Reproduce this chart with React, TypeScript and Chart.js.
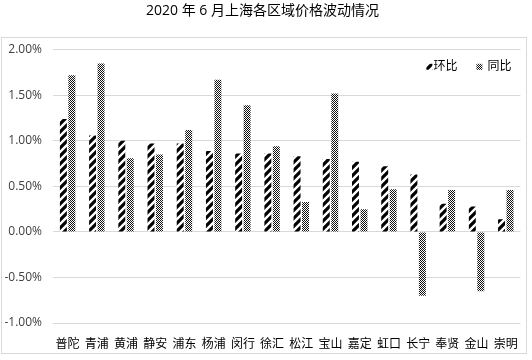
import React, { useEffect, useRef } from "react";
import { Chart, registerables } from "chart.js";

Chart.register(...registerables);

const districts = ["普陀", "青浦", "黄浦", "静安", "浦东", "杨浦", "闵行", "徐汇", "松江", "宝山", "嘉定", "虹口", "长宁", "奉贤", "金山", "崇明"];
const momValues = [1.24, 1.06, 1.0, 0.97, 0.97, 0.89, 0.86, 0.86, 0.83, 0.8, 0.77, 0.72, 0.63, 0.31, 0.28, 0.14];
const yoyValues = [1.72, 1.85, 0.81, 0.85, 1.12, 1.67, 1.39, 0.94, 0.33, 1.52, 0.25, 0.47, -0.7, 0.46, -0.65, 0.46];
const seriesNames = ["环比", "同比"];
const titleText = "2020 年 6 月上海各区域价格波动情况";

const FONT = "'Open Sans', 'Noto Sans CJK SC', sans-serif";

function makeStripe(): CanvasPattern | string {
  const c = document.createElement("canvas");
  c.width = 8;
  c.height = 8;
  const g = c.getContext("2d");
  if (!g) return "#000";
  g.fillStyle = "#fff";
  g.fillRect(0, 0, 8, 8);
  g.strokeStyle = "#000";
  g.lineWidth = 3.2;
  g.beginPath();
  g.moveTo(-2, 10);
  g.lineTo(10, -2);
  g.moveTo(-6, 6);
  g.lineTo(6, -6);
  g.moveTo(2, 14);
  g.lineTo(14, 2);
  g.stroke();
  const p = g.createPattern(c, "repeat");
  return p || "#000";
}

function makeChecker(): CanvasPattern | string {
  const c = document.createElement("canvas");
  c.width = 2;
  c.height = 2;
  const g = c.getContext("2d");
  if (!g) return "#666";
  g.fillStyle = "#fff";
  g.fillRect(0, 0, 2, 2);
  g.fillStyle = "#111";
  g.fillRect(0, 0, 1, 1);
  g.fillRect(1, 1, 1, 1);
  const p = g.createPattern(c, "repeat");
  return p || "#666";
}

const borderPlugin = {
  id: "outerBorder",
  beforeDraw(chart: any) {
    const ctx = chart.ctx;
    ctx.save();
    ctx.fillStyle = "#fff";
    ctx.fillRect(0, 0, chart.width, chart.height);
    ctx.strokeStyle = "#d9d9d9";
    ctx.lineWidth = 1;
    ctx.strokeRect(1.5, 37.5, 525, 316);
    ctx.restore();
  },
};

const legendPlugin = {
  id: "insideLegend",
  afterDraw(chart: any) {
    const ctx = chart.ctx;
    const area = chart.chartArea;
    const y = area.top + 17;
    const items = [
      { x: area.right - 94, tx: area.right - 87 },
      { x: area.right - 44, tx: area.right - 33 },
    ];
    ctx.save();
    ctx.font = "12px " + FONT;
    ctx.textBaseline = "middle";
    ctx.textAlign = "left";
    chart.data.datasets.forEach((ds: any, i: number) => {
      const it = items[i];
      ctx.fillStyle = ds.backgroundColor;
      ctx.fillRect(it.x, y - 3, 6, 6);
      ctx.fillStyle = "#000";
      ctx.fillText(ds.label, it.tx, y);
    });
    ctx.restore();
  },
};

export default function App() {
  const ref = useRef<HTMLCanvasElement | null>(null);
  useEffect(() => {
    if (!ref.current) return;
    const stripe = makeStripe();
    const checker = makeChecker();
    const chart = new Chart(ref.current, {
      type: "bar",
      data: {
        labels: districts,
        datasets: [
          {
            label: seriesNames[0],
            data: momValues,
            backgroundColor: stripe as any,
            borderWidth: 0,
            categoryPercentage: 0.58,
            barPercentage: 0.82,
          },
          {
            label: seriesNames[1],
            data: yoyValues,
            backgroundColor: checker as any,
            borderWidth: 0,
            categoryPercentage: 0.58,
            barPercentage: 0.82,
          },
        ],
      },
      options: {
        animation: false,
        responsive: false,
        maintainAspectRatio: false,
        layout: { padding: { left: 0, right: 7, top: 0, bottom: 8 } },
        plugins: {
          title: {
            display: true,
            text: titleText,
            color: "#000",
            font: { family: FONT, size: 14, weight: "normal" },
            padding: { top: 3, bottom: 30 },
          },
          legend: { display: false },
          tooltip: { enabled: false },
        },
        scales: {
          x: {
            grid: { display: false, drawTicks: false },
            border: { display: false },
            ticks: {
              color: "#000",
              font: { family: FONT, size: 12 },
              padding: 14,
              maxRotation: 0,
              autoSkip: false,
            },
            afterFit: (scale: any) => {
              scale.height = 29;
            },
          },
          y: {
            min: -1,
            max: 2,
            grid: { color: "#d9d9d9", drawTicks: false, lineWidth: 1 },
            border: { display: false },
            ticks: {
              stepSize: 0.5,
              color: "#404040",
              font: { family: FONT, size: 12 },
              padding: 11,
              callback: (v: any) => Number(v).toFixed(2) + "%",
            },
            afterFit: (scale: any) => {
              scale.width = 53;
            },
          },
        },
      },
      plugins: [borderPlugin, legendPlugin],
    });
    return () => chart.destroy();
  }, []);
  return (
    <div style={{ position: "fixed", left: 0, top: 0, width: 532, height: 360, background: "#fff" }}>
      <canvas ref={ref} width={532} height={360} style={{ width: 532, height: 360, display: "block" }} />
    </div>
  );
}
